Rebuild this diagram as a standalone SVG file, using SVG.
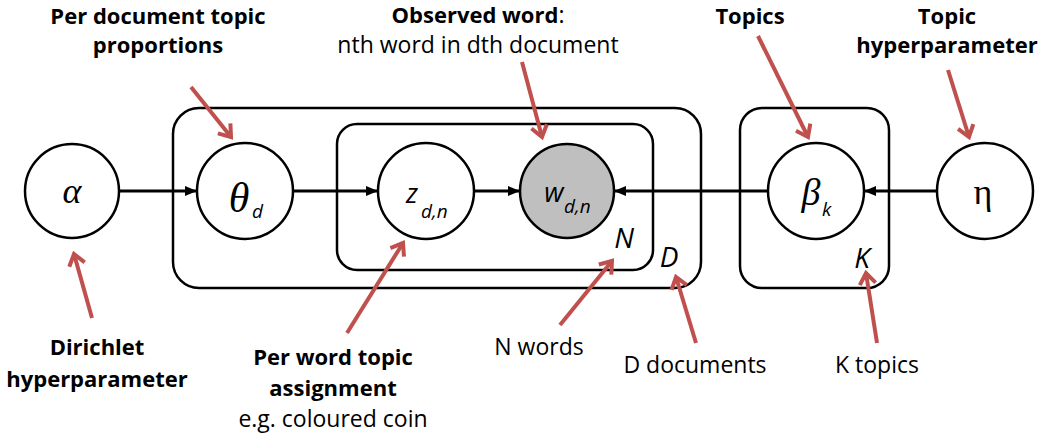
<svg xmlns="http://www.w3.org/2000/svg" width="1038" height="440" viewBox="0 0 1038 440">
  <style>
    .plate { fill: none; stroke: #000; stroke-width: 2.5; }
    .node { fill: #fff; stroke: #000; stroke-width: 2.5; }
    .observed { fill: #bfbfbf; }
    .edge { stroke: #000; stroke-width: 3; fill: none; marker-end: url(#head); }
    .call { stroke: #c0504d; stroke-width: 4; fill: none; marker-end: url(#open); }
    .lbl { font-family: "Open Sans", "Liberation Sans", sans-serif; font-size: 23px; fill: #000; text-anchor: middle; }
    .b { font-weight: bold; font-size: 22px; }
    .greek { font-family: "Liberation Serif", "DejaVu Serif", serif; font-style: italic; fill: #000; }
    .var { font-family: "Open Sans", "Liberation Sans", sans-serif; font-style: italic; fill: #000; }
    .sub { font-size: 19px; }
    .count { font-family: "Open Sans", "Liberation Sans", sans-serif; font-style: italic; font-size: 28px; fill: #000; }
  </style>
  <defs>
    <marker id="head" markerUnits="userSpaceOnUse" markerWidth="14" markerHeight="12" refX="12" refY="5" orient="auto">
      <path d="M0,0 L12,5 L0,10 Z" fill="#000"/>
    </marker>
    <marker id="open" markerUnits="userSpaceOnUse" markerWidth="20" markerHeight="20" refX="14" refY="10" orient="auto">
      <path d="M3,2 L14,10 L3,18" fill="none" stroke="#c0504d" stroke-width="4"/>
    </marker>
  </defs>

  <!-- plates -->
  <g id="plate-D"><rect class="plate" x="173" y="108" width="528" height="180" rx="26"/><text class="count" x="669" y="267" text-anchor="middle">D</text></g>
  <g id="plate-N"><rect class="plate" x="337" y="124" width="316" height="146" rx="20"/><text class="count" x="624" y="248" text-anchor="middle">N</text></g>
  <g id="plate-K"><rect class="plate" x="740" y="108" width="149" height="180" rx="22"/><text class="count" x="862" y="268" text-anchor="middle">K</text></g>

  <!-- connectors -->
  <g id="edges">
    <line class="edge" x1="119" y1="191" x2="197" y2="191"/>
    <line class="edge" x1="293" y1="191" x2="378" y2="191"/>
    <line class="edge" x1="474" y1="191" x2="520" y2="191"/>
    <line class="edge" x1="769" y1="191" x2="614" y2="191"/>
    <line class="edge" x1="938" y1="191" x2="864" y2="191"/>
  </g>

  <!-- nodes -->
  <g id="alpha"><circle class="node" cx="72" cy="191" r="47"/><text class="greek" x="72" y="203" font-size="36" text-anchor="middle">α</text></g>
  <g id="theta"><circle class="node" cx="245" cy="191" r="48"/><text class="greek" x="239" y="212" font-size="42" text-anchor="middle">θ</text><text class="var sub" x="252" y="218">d</text></g>
  <g id="z"><circle class="node" cx="426" cy="191" r="48"/><text class="var" x="412" y="203" font-size="27" text-anchor="middle">z</text><text class="var sub" x="421" y="218">d,n</text></g>
  <g id="w"><circle class="node observed" cx="567" cy="191" r="47"/><text class="var" x="554" y="202" font-size="27" text-anchor="middle">w</text><text class="var sub" x="564" y="213">d,n</text></g>
  <g id="beta"><circle class="node" cx="816" cy="191" r="48"/><text class="greek" x="811" y="205" font-size="38" text-anchor="middle">β</text><text class="var sub" x="822" y="216">k</text></g>
  <g id="eta"><circle class="node" cx="985" cy="191" r="48"/><text x="983" y="204" font-family="Liberation Serif, DejaVu Serif, serif" font-size="36" text-anchor="middle" fill="#000">η</text></g>

  <!-- callouts -->
  <g id="callouts">
    <line class="call" x1="191" y1="87" x2="231" y2="137"/>
    <line class="call" x1="522" y1="62" x2="542" y2="137"/>
    <line class="call" x1="758" y1="36" x2="808" y2="137"/>
    <line class="call" x1="948" y1="70" x2="969" y2="137"/>
    <line class="call" x1="92" y1="318" x2="74" y2="254"/>
    <line class="call" x1="347" y1="333" x2="403" y2="243"/>
    <line class="call" x1="560" y1="325" x2="612" y2="261"/>
    <line class="call" x1="696" y1="343" x2="676" y2="277"/>
    <line class="call" x1="877" y1="343" x2="866" y2="273"/>
  </g>

  <!-- annotations -->
  <g id="labels">
    <text class="lbl b" x="158" y="24">Per document topic<tspan x="158" dy="29">proportions</tspan></text>
    <text class="lbl" x="478" y="23"><tspan class="b">Observed word</tspan>:<tspan x="478" dy="30">nth word in dth document</tspan></text>
    <text class="lbl b" x="750" y="24">Topics</text>
    <text class="lbl b" x="947" y="24">Topic<tspan x="947" dy="29">hyperparameter</tspan></text>
    <text class="lbl b" x="97" y="355">Dirichlet<tspan x="97" dy="32">hyperparameter</tspan></text>
    <text class="lbl" x="333" y="365"><tspan class="b">Per word topic</tspan><tspan class="b" x="333" dy="31">assignment</tspan><tspan x="333" dy="31">e.g. coloured coin</tspan></text>
    <text class="lbl" x="539" y="355">N words</text>
    <text class="lbl" x="695" y="373">D documents</text>
    <text class="lbl" x="877" y="373">K topics</text>
  </g>
</svg>
